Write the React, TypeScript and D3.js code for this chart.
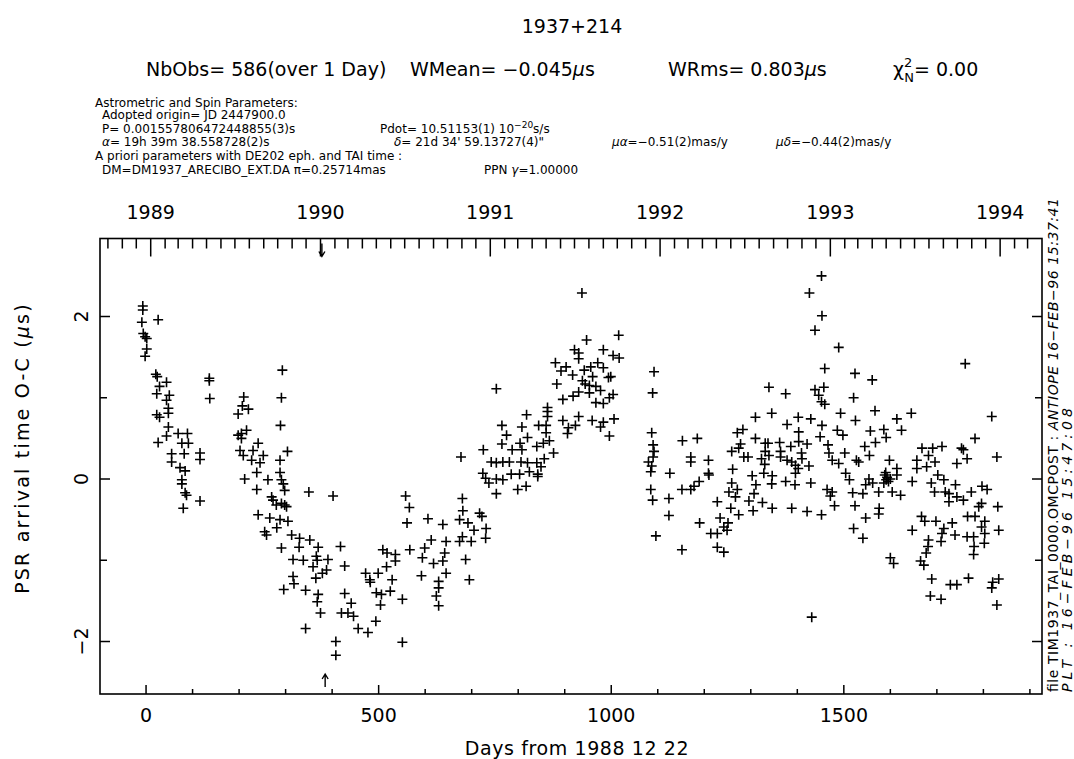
import React, { useEffect } from "react";
import * as d3 from "d3";

// ---------- DATA (days from 1988-12-22, residual O-C in microseconds) ----------
const season1989a: [number, number][] = [
  [-7, 2.13], [-7, 2.08], [-9, 1.93], [26, 1.96], [-6, 1.79], [-2, 1.75], [1.5, 1.73], [1.5, 1.6], [-2, 1.51],
  [21, 1.29], [24, 1.26], [44, 1.19], [29, 1.14], [23, 1.05], [50, 1.03], [44, 0.97], [48, 0.87], [23, 0.79],
  [29, 0.76], [48, 0.81], [48, 0.64], [69, 0.56], [89, 0.56], [44, 0.53], [26, 0.45], [77, 0.44], [91, 0.44],
  [55, 0.31], [82, 0.31], [55, 0.21], [116, 0.32], [116, 0.24], [73, 0.14], [84, 0.1], [77, -0.01], [77, -0.06],
  [84, -0.17], [87, -0.2], [116, -0.27], [80, -0.36], [136, 1.24], [136, 1.21], [137, 0.99],
];
const season1989b: [number, number][] = [
  [210, 1.01], [207, 0.9], [220, 0.86], [198, 0.8], [216, 0.6], [205, 0.56], [198, 0.54], [205, 0.5], [241, 0.44],
  [230, 0.35], [202, 0.35], [209, 0.29], [252, 0.29], [227, 0.23], [245, 0.2], [238, 0.08], [212, 0.0], [262, -0.01],
  [238, -0.13], [273, -0.26], [270, -0.22], [280, -0.32], [298, -0.32], [241, -0.44], [266, -0.48], [288, -0.5],
  [305, -0.52], [255, -0.65], [259, -0.69], [281, -0.6], [313, -0.69], [293, 1.34], [291, 1.0], [289, 0.66],
  [304, 0.34], [288, 0.23], [288, 0.08], [291, -0.01], [295, -0.06], [298, -0.14], [291, -0.3], [302, -0.34],
];
const season1990: [number, number][] = [
  [350, -0.16], [402, -0.21], [330, -0.73], [352, -0.75], [329, -0.84], [291, -0.85], [370, -0.84], [418, -0.83],
  [316, -0.99], [338, -1.0], [366, -0.95], [368, -1.0], [391, -0.99], [359, -1.08], [388, -1.12], [379, -1.16],
  [427, -1.07], [316, -1.2], [318, -1.29], [365, -1.22], [296, -1.36], [343, -1.37], [370, -1.42], [368, -1.51],
  [375, -1.65], [343, -1.84], [408, -2.0], [408, -2.17], [427, -1.41], [441, -1.53], [420, -1.65], [434, -1.65],
  [446, -1.69], [456, -1.84], [477, -1.89], [494, -1.75], [472, -1.16], [481, -1.24], [482, -1.27], [499, -1.16],
  [509, -0.87], [518, -0.91], [517, -1.08], [536, -0.93], [536, -1.01], [529, -1.24], [525, -1.38], [495, -1.4],
  [506, -1.42], [504, -1.55], [551, -1.48], [551, -2.01], [558, -0.21], [566, -0.35], [561, -0.54], [567, -0.87],
  [606, -0.49], [638, -0.56], [613, -0.75], [599, -0.85], [594, -0.97], [618, -1.04], [592, -1.19], [645, -0.77],
  [642, -0.91], [638, -1.01], [645, -1.16], [629, -1.26], [629, -1.34], [624, -1.44], [629, -1.56], [677, 0.27],
  [680, -0.24], [681, -0.39], [674, -0.5], [692, -0.54], [705, -0.63], [680, -0.71], [674, -0.77], [699, -0.77],
  [730, -0.73], [731, -0.61], [717, -0.42], [722, -0.46], [687, -0.99], [695, -1.24], [725, 0.36], [724, 0.07],
  [737, -0.05], [753, -0.18],
];
const season1991: [number, number][] = [
  [937, 2.29], [1016, 1.77], [947, 1.71], [983, 1.59], [921, 1.59], [930, 1.55], [1004, 1.52], [1017, 1.49],
  [930, 1.48], [880, 1.43], [971, 1.43], [903, 1.38], [892, 1.33], [942, 1.34], [956, 1.38], [983, 1.37],
  [917, 1.28], [994, 1.25], [999, 1.26], [960, 1.26], [938, 1.21], [883, 1.17], [944, 1.17], [953, 1.15],
  [967, 1.14], [977, 1.09], [930, 1.07], [953, 1.06], [918, 1.02], [896, 0.98], [1004, 1.04], [996, 1.0],
  [967, 0.94], [983, 0.93], [753, 1.11], [818, 0.79], [863, 0.88], [863, 0.83], [863, 0.77], [930, 0.77],
  [896, 0.72], [923, 0.66], [908, 0.63], [959, 0.72], [983, 0.7], [1006, 0.74], [977, 0.64], [906, 0.56],
  [996, 0.53], [765, 0.66], [808, 0.64], [844, 0.66], [860, 0.66], [860, 0.57], [775, 0.54], [820, 0.51],
  [840, 0.4], [867, 0.47], [765, 0.43], [804, 0.44], [787, 0.36], [808, 0.36], [854, 0.44], [876, 0.32],
  [742, 0.21], [753, 0.2], [767, 0.21], [781, 0.21], [806, 0.21], [820, 0.2], [840, 0.2], [856, 0.25],
  [849, 0.15], [730, 0.01], [753, 0.0], [767, -0.01], [785, 0.06], [803, 0.06], [824, 0.09], [842, 0.06],
  [842, 0.03], [799, -0.13], [817, -0.09],
];
const season1992: [number, number][] = [
  [1452, 2.5], [1426, 2.29], [1453, 2.01], [1438, 1.83], [1489, 1.62], [1459, 1.36], [1524, 1.3], [1092, 1.32],
  [1089, 1.06], [1339, 1.13], [1375, 1.05], [1438, 1.1], [1457, 1.13], [1446, 1.03], [1452, 0.95], [1459, 0.92],
  [1521, 1.0], [1310, 0.76], [1345, 0.81], [1378, 0.67], [1402, 0.76], [1429, 0.74], [1493, 0.81], [1525, 0.72],
  [1087, 0.57], [1271, 0.57], [1283, 0.61], [1403, 0.58], [1453, 0.66], [1449, 0.52], [1486, 0.6], [1498, 0.54],
  [1153, 0.47], [1185, 0.5], [1310, 0.5], [1331, 0.44], [1278, 0.43], [1090, 0.42], [1092, 0.34], [1090, 0.27],
  [1080, 0.21], [1087, 0.16], [1085, 0.09], [1126, 0.07], [1171, 0.27], [1171, 0.21], [1209, 0.23], [1209, 0.07],
  [1259, 0.34], [1274, 0.38], [1285, 0.27], [1294, 0.27], [1337, 0.44], [1331, 0.34], [1339, 0.29], [1323, 0.25],
  [1330, 0.18], [1362, 0.45], [1364, 0.34], [1364, 0.27], [1386, 0.4], [1378, 0.23], [1388, 0.21], [1396, 0.17],
  [1403, 0.46], [1421, 0.43], [1409, 0.32], [1410, 0.25], [1402, 0.13], [1396, 0.07], [1425, 0.16], [1261, 0.12],
  [1303, 0.04], [1311, -0.07], [1328, 0.07], [1346, 0.04], [1345, -0.06], [1375, -0.03], [1395, -0.07],
  [1429, -0.05], [1466, 0.42], [1468, 0.32], [1475, 0.23], [1489, 0.19], [1502, 0.32], [1504, 0.07], [1512, -0.01],
  [1527, 0.23], [1464, -0.13], [1475, -0.16], [1471, -0.21], [1480, -0.33], [1452, -0.44], [1421, -0.4],
  [1388, -0.36], [1346, -0.36], [1325, -0.29], [1305, -0.39], [1296, -0.27], [1307, -0.18], [1271, -0.13],
  [1259, -0.05], [1253, -0.16], [1267, -0.22], [1257, -0.36], [1274, -0.44], [1228, -0.28], [1234, -0.48],
  [1251, -0.54], [1249, -0.63], [1242, -0.59], [1214, -0.67], [1228, -0.67], [1190, -0.54], [1228, -0.84],
  [1242, -0.9], [1152, -0.87], [1096, -0.7], [1124, -0.24], [1124, -0.45], [1089, -0.26], [1085, -0.13],
  [1152, -0.13], [1171, -0.13], [1189, -0.03], [1178, -0.09], [1210, 0.05], [1519, -0.17], [1524, -0.33],
  [1521, -0.61], [1431, -1.7],
];
const season1993: [number, number][] = [
  [1761, 1.42], [1561, 1.22], [1567, 0.84], [1614, 0.74], [1645, 0.81], [1818, 0.77], [1557, 0.59], [1586, 0.61],
  [1591, 0.51], [1624, 0.6], [1568, 0.45], [1545, 0.4], [1555, 0.29], [1532, 0.21], [1598, 0.23], [1614, 0.13],
  [1614, 0.05], [1588, 0.05], [1591, -0.01], [1586, -0.05], [1593, 0.02], [1596, -0.03], [1590, 0.08], [1600, 0.0],
  [1554, 0.0], [1562, -0.05], [1547, -0.07], [1575, -0.16], [1604, -0.16], [1622, -0.2], [1541, -0.18],
  [1576, -0.36], [1575, -0.43], [1547, -0.48], [1541, -0.73], [1647, -0.03], [1668, 0.38], [1682, 0.29],
  [1691, 0.38], [1711, 0.4], [1657, 0.23], [1657, 0.13], [1678, 0.15], [1696, 0.21], [1688, -0.05], [1695, -0.16],
  [1702, 0.05], [1715, -0.01], [1718, -0.16], [1726, -0.18], [1726, -0.28], [1740, -0.07], [1743, -0.22],
  [1757, -0.26], [1753, 0.38], [1757, 0.36], [1765, 0.25], [1743, 0.19], [1782, 0.5], [1829, 0.27], [1774, -0.16],
  [1797, -0.09], [1808, -0.13], [1796, -0.3], [1790, -0.34], [1831, -0.34], [1766, -0.46], [1782, -0.46],
  [1803, -0.52], [1796, -0.59], [1803, -0.67], [1802, -0.79], [1833, -0.63], [1779, -0.71], [1780, -0.83],
  [1779, -0.93], [1765, -0.71], [1667, -0.46], [1674, -0.52], [1698, -0.52], [1715, -0.61], [1711, -0.67],
  [1733, -0.54], [1739, -0.69], [1709, -0.77], [1647, -0.63], [1682, -0.75], [1681, -0.83], [1677, -0.91],
  [1665, -1.01], [1672, -1.06], [1600, -0.97], [1607, -1.04], [1689, -1.23], [1686, -1.44], [1709, -1.48],
  [1729, -1.3], [1743, -1.3], [1768, -1.22], [1820, -1.27], [1833, -1.23], [1818, -1.34], [1829, -1.55],
];

const xDomain: [number, number] = [-99, 1926];
const yDomain: [number, number] = [-2.646, 2.96];
const xMajorTicks = [0, 500, 1000, 1500];
const yMajorTicks = [-2, 0, 2];
const yAllTicks = [-2, -1, 0, 1, 2];
const arrowDays = [378, 385];

const title = "1937+214";
const statsLine = { nbObs: "NbObs= 586(over 1 Day)", wmean: "−0.045", wrms: "0.803", chi: "0.00" };

const FONT = "'DejaVu Sans', sans-serif";

export default function App() {
  useEffect(() => {
    document.body.style.margin = "0";
  }, []);

  const left = 100, right = 1042, top = 238.5, bottom = 694;
  const x = d3.scaleLinear().domain(xDomain).range([left, right]);
  const y = d3.scaleLinear().domain(yDomain).range([bottom, top]);
  const origin = Date.UTC(1988, 11, 22);
  const dayMs = 86400000;
  const t = d3
    .scaleUtc()
    .domain([new Date(origin + xDomain[0] * dayMs), new Date(origin + xDomain[1] * dayMs)])
    .range([left, right]);
  const months = d3.utcMonth.range(t.domain()[0], t.domain()[1]);
  const minorX = d3.range(0, xDomain[1], 100);

  const all = [...season1989a, ...season1989b, ...season1990, ...season1991, ...season1992, ...season1993];
  const cross = "M-5,0H5M0,-5V5";
  const pFont = { fontFamily: FONT, fontSize: 12 };

  return (
    <svg width={1074} height={759} style={{ position: "absolute", left: 0, top: 0, background: "#fff" }}>
      <rect x={0} y={0} width={1074} height={759} fill="#fff" />
      {/* header */}
      <text x={572} y={33} textAnchor="middle" fontFamily={FONT} fontSize={19}>{title}</text>
      <g fontFamily={FONT} fontSize={19}>
        <text x={146} y={76}>{statsLine.nbObs}</text>
        <text x={410} y={76}>WMean= {statsLine.wmean}<tspan fontStyle="italic">µ</tspan>s</text>
        <text x={668} y={76}>WRms= {statsLine.wrms}<tspan fontStyle="italic">µ</tspan>s</text>
        <text x={893} y={76}>
          χ<tspan dy={-9} fontSize={13}>2</tspan>
          <tspan dx={-8} dy={15} fontSize={13}>N</tspan>
          <tspan dy={-6}>= {statsLine.chi}</tspan>
        </text>
      </g>
      <g {...pFont}>
        <text x={95} y={107}>Astrometric and Spin Parameters:</text>
        <text x={102} y={119}>Adopted origin= JD 2447900.0</text>
        <text x={102} y={133}>P= 0.001557806472448855(3)s</text>
        <text x={380} y={133}>
          Pdot=  10.51153(1) 10<tspan dy={-5} fontSize={9}>−20</tspan><tspan dy={5}>s/s</tspan>
        </text>
        <text x={102} y={146}><tspan fontStyle="italic">α</tspan>= 19h 39m 38.558728(2)s</text>
        <text x={394} y={146}><tspan fontStyle="italic">δ</tspan>= 21d 34' 59.13727(4)"</text>
        <text x={612} y={146}><tspan fontStyle="italic">µα</tspan>=−0.51(2)mas/y</text>
        <text x={776} y={146}><tspan fontStyle="italic">µδ</tspan>=−0.44(2)mas/y</text>
        <text x={95} y={160}>A priori parameters with DE202  eph. and TAI time :</text>
        <text x={102} y={174}>DM=DM1937_ARECIBO_EXT.DA π=0.25714mas</text>
        <text x={484} y={174}>PPN <tspan fontStyle="italic">γ</tspan>=1.00000</text>
      </g>

      {/* frame */}
      <rect x={left} y={top} width={right - left} height={bottom - top} fill="none" stroke="#000" strokeWidth={1.6} />

      {/* top axis (years / months) */}
      <g stroke="#000" strokeWidth={1.5}>
        {months.map((m, i) => {
          const major = m.getUTCMonth() === 0;
          const px = t(m);
          return <line key={"m" + i} x1={px} x2={px} y1={top} y2={top + (major ? 18 : 10)} />;
        })}
      </g>
      <g fontFamily={FONT} fontSize={19} textAnchor="middle">
        {months
          .filter((m) => m.getUTCMonth() === 0)
          .map((m, i) => (
            <text key={"y" + i} x={t(m)} y={219}>{m.getUTCFullYear()}</text>
          ))}
      </g>

      {/* bottom axis */}
      <g stroke="#000" strokeWidth={1.5}>
        {minorX.map((d) => (
          <line key={"bx" + d} x1={x(d)} x2={x(d)} y1={bottom} y2={bottom - (d % 500 === 0 ? 9 : 5)} />
        ))}
      </g>
      <g fontFamily={FONT} fontSize={19} textAnchor="middle">
        {xMajorTicks.map((d) => (
          <text key={"bl" + d} x={x(d)} y={722}>{d}</text>
        ))}
      </g>
      <text x={577} y={755} textAnchor="middle" fontFamily={FONT} fontSize={19} letterSpacing={0.6}>
        Days from 1988 12 22
      </text>

      {/* left & right y ticks */}
      <g stroke="#000" strokeWidth={1.5}>
        {yAllTicks.map((v) => (
          <g key={"yt" + v}>
            <line x1={left} x2={left + (v % 2 === 0 ? 10 : 7)} y1={y(v)} y2={y(v)} />
            <line x1={right} x2={right - (v % 2 === 0 ? 10 : 7)} y1={y(v)} y2={y(v)} />
          </g>
        ))}
      </g>
      <g fontFamily={FONT} fontSize={19} textAnchor="middle">
        {yMajorTicks.map((v) => (
          <text key={"yl" + v} transform={`translate(88,${y(v)}) rotate(-90)`}>
            {v < 0 ? "−" + Math.abs(v) : String(v)}
          </text>
        ))}
      </g>
      <text
        transform={`translate(29,448) rotate(-90)`}
        textAnchor="middle"
        fontFamily={FONT}
        fontSize={19}
        letterSpacing={2.2}
      >
        PSR arrival time O-C (<tspan fontStyle="italic">µ</tspan>s)
      </text>

      {/* arrows */}
      <g stroke="#000" strokeWidth={1.4} fill="none">
        <path d={`M${x(arrowDays[0])},${top + 5}V${top + 18}M${x(arrowDays[0]) - 3},${top + 13}L${x(arrowDays[0])},${top + 18}L${x(arrowDays[0]) + 3},${top + 13}`} />
        <path d={`M${x(arrowDays[1])},${bottom - 7}V${bottom - 20}M${x(arrowDays[1]) - 3},${bottom - 15}L${x(arrowDays[1])},${bottom - 20}L${x(arrowDays[1]) + 3},${bottom - 15}`} />
      </g>

      {/* data */}
      <g stroke="#000" strokeWidth={1.6} fill="none">
        {all.map(([d, v], i) => (
          <path key={"p" + i} d={cross} transform={`translate(${x(d)},${y(v)})`} />
        ))}
      </g>

      {/* right-side file annotation */}
      <g fontFamily={FONT} fontSize={14}>
        <text transform="translate(1058,692) rotate(-90)" textLength={494} lengthAdjust="spacing">
          file TIM1937_TAI_0000.OMCPOST  : <tspan fontStyle="italic">ANTIOPE 16−FEB−96 15:37:41</tspan>
        </text>
        <text transform="translate(1072,692) rotate(-90)" fontStyle="italic" textLength={284} lengthAdjust="spacing">
          PLT  : 16−FEB−96  15:47:08
        </text>
      </g>
    </svg>
  );
}
